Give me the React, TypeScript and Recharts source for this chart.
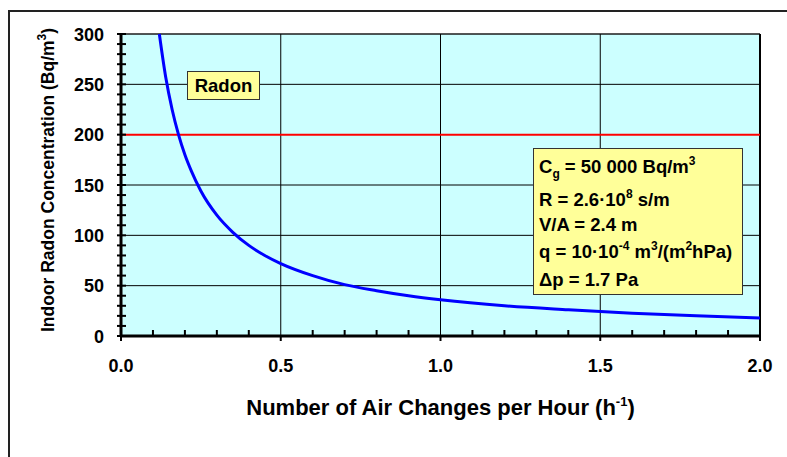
import {
  LineChart,
  Line,
  XAxis,
  YAxis,
  ReferenceArea,
  ReferenceLine,
  Label,
} from 'recharts';

// values
const airChanges = [0.12, 0.14, 0.16, 0.18, 0.2, 0.22, 0.25, 0.3, 0.35, 0.4, 0.45, 0.5, 0.6, 0.7, 0.8, 0.9, 1.0, 1.2, 1.4, 1.6, 1.8, 2.0];
const radonConc = [300, 257, 225, 200, 180, 164, 144, 120, 103, 90, 80, 72, 60, 51, 45, 40, 36, 30, 26, 22.5, 20, 18];

const xTicks = [0, 0.1, 0.2, 0.3, 0.4, 0.5, 0.6, 0.7, 0.8, 0.9, 1.0, 1.1, 1.2, 1.3, 1.4, 1.5, 1.6, 1.7, 1.8, 1.9, 2.0];
const yTicks = [0, 10, 20, 30, 40, 50, 60, 70, 80, 90, 100, 110, 120, 130, 140, 150, 160, 170, 180, 190, 200, 210, 220, 230, 240, 250, 260, 270, 280, 290, 300];
const xGrid = [0.5, 1.0, 1.5];
const yGrid = [50, 100, 150, 250, 300];
const limit = 200;

const data = airChanges.map((x, i) => ({ x, c: radonConc[i] }));

const FONT = '"Liberation Sans", Arial, sans-serif';

const isMajorX = (v: number) => Math.abs(v * 2 - Math.round(v * 2)) < 1e-6;

const XTick = ({ x, y, payload }: any) => {
  const v = payload.value as number;
  const major = isMajorX(v);
  return (
    <g>
      {major ? (
        <line x1={x} x2={x} y1={y} y2={y + 5} stroke="#000" strokeWidth={2} />
      ) : (
        <line x1={x} x2={x} y1={y} y2={y - 6} stroke="#000" strokeWidth={2} />
      )}
      {major && (
        <text x={x} y={y + 36} textAnchor="middle" fontFamily={FONT} fontWeight="bold" fontSize={18} fill="#000">
          {v.toFixed(1)}
        </text>
      )}
    </g>
  );
};

const YTick = ({ x, y, payload }: any) => {
  const v = payload.value as number;
  return (
    <g>
      <line x1={x - 4} x2={x + 5} y1={y} y2={y} stroke="#000" strokeWidth={2} />
      {v % 50 === 0 && (
        <text x={x - 17} y={y + 6.5} textAnchor="end" fontFamily={FONT} fontWeight="bold" fontSize={18} fill="#000">
          {v}
        </text>
      )}
    </g>
  );
};

const XTitle = ({ viewBox }: any) => {
  const cx = viewBox.x + viewBox.width / 2;
  return (
    <text x={cx} y={viewBox.y + 79} textAnchor="middle" fontFamily={FONT} fontWeight="bold" fontSize={22} fill="#000">
      Number of Air Changes per Hour (h
      <tspan dy={-9} fontSize={13}>-1</tspan>
      <tspan dy={9}>)</tspan>
    </text>
  );
};

const YTitle = ({ viewBox }: any) => {
  const cy = viewBox.y + viewBox.height / 2 - 5;
  const bx = 54;
  return (
    <text
      x={bx}
      y={cy}
      transform={`rotate(-90, ${bx}, ${cy})`}
      textAnchor="middle"
      fontFamily={FONT}
      fontWeight="bold"
      fontSize={17.5}
      fill="#000"
    >
      Indoor Radon Concentration (Bq/m
      <tspan dy={-8} fontSize={12}>3</tspan>
      <tspan dy={8}>)</tspan>
    </text>
  );
};

const boxText = { fontFamily: FONT, fontWeight: 'bold' as const, fontSize: 18.5, fill: '#000' };

export default function App() {
  return (
    <div style={{ position: 'absolute', left: 0, top: 0, width: 787, height: 457, overflow: 'hidden', background: '#fff' }}>
      <div
        style={{
          position: 'absolute',
          left: 8,
          top: 10,
          width: 900,
          height: 600,
          borderTop: '2px solid #222',
          borderLeft: '2px solid #222',
        }}
      />
      <div style={{ position: 'absolute', left: 0, top: 0 }}>
        <LineChart width={787} height={457} data={data} margin={{ top: 34, right: 27, left: 0, bottom: 0 }}>
          <ReferenceArea x1={0} x2={2} y1={0} y2={300} fill="#CCFFFF" fillOpacity={1} stroke="#555" strokeWidth={1} />
          {xGrid.map((v) => (
            <ReferenceLine key={'gx' + v} x={v} stroke="#000" strokeWidth={1} />
          ))}
          {yGrid.map((v) => (
            <ReferenceLine key={'gy' + v} y={v} stroke="#000" strokeWidth={1} />
          ))}
          <ReferenceLine x={2} stroke="#000" strokeWidth={2} />
          <ReferenceLine y={limit} stroke="#FF0000" strokeWidth={2} />
          <Line
            type="monotone"
            dataKey="c"
            stroke="#0000FF"
            strokeWidth={3}
            dot={false}
            isAnimationActive={false}
          />
          <XAxis
            dataKey="x"
            type="number"
            domain={[0, 2]}
            ticks={xTicks}
            interval={0}
            height={121}
            tickSize={0}
            tickMargin={0}
            tickLine={false}
            axisLine={{ stroke: '#000', strokeWidth: 3 }}
            tick={<XTick />}
          >
            <Label content={<XTitle />} />
          </XAxis>
          <YAxis
            type="number"
            domain={[0, 300]}
            ticks={yTicks}
            interval={0}
            width={121}
            tickSize={0}
            tickMargin={0}
            tickLine={false}
            axisLine={{ stroke: '#000', strokeWidth: 3 }}
            tick={<YTick />}
          >
            <Label content={<YTitle />} />
          </YAxis>
        </LineChart>
      </div>
      <svg width={787} height={457} style={{ position: 'absolute', left: 0, top: 0, pointerEvents: 'none' }}>
        <rect x={187.5} y={71.5} width={72} height={28} fill="#FFFF99" stroke="#333" strokeWidth={1} />
        <text x={223.5} y={92} textAnchor="middle" {...boxText}>Radon</text>

        <rect x={533.5} y={148.5} width={209} height={146} fill="#FFFF99" stroke="#333" strokeWidth={1} />
        <text x={539} y={173} {...boxText}>
          C<tspan dy={5} fontSize={12}>g</tspan>
          <tspan dy={-5}> = 50 000 Bq/m</tspan>
          <tspan dy={-8} fontSize={12}>3</tspan>
        </text>
        <text x={539} y={206} {...boxText}>
          R = 2.6·10<tspan dy={-8} fontSize={12}>8</tspan>
          <tspan dy={8}> s/m</tspan>
        </text>
        <text x={539} y={231} {...boxText}>V/A = 2.4 m</text>
        <text x={539} y={258} {...boxText}>
          q = 10·10<tspan dy={-8} fontSize={12}>-4</tspan>
          <tspan dy={8}> m</tspan>
          <tspan dy={-8} fontSize={12}>3</tspan>
          <tspan dy={8}>/(m</tspan>
          <tspan dy={-8} fontSize={12}>2</tspan>
          <tspan dy={8}>hPa)</tspan>
        </text>
        <text x={539} y={286} {...boxText}>Δp = 1.7 Pa</text>
      </svg>
    </div>
  );
}
